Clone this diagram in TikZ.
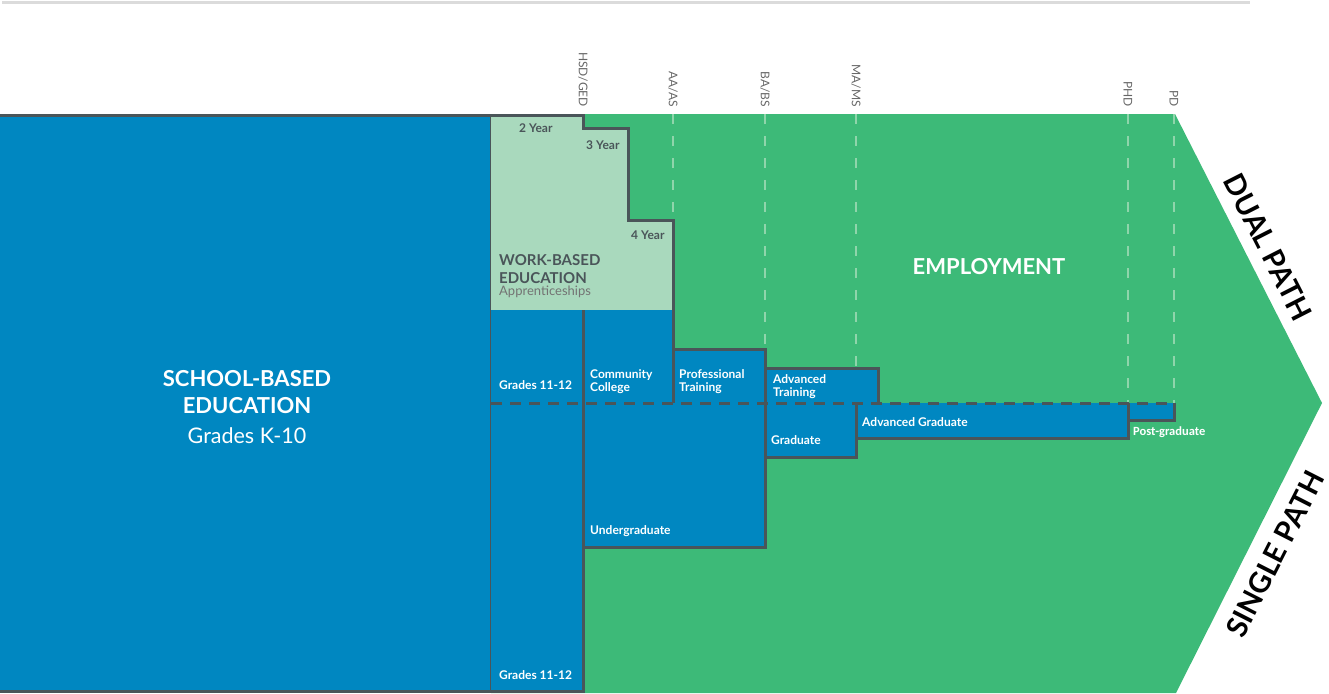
\documentclass[tikz,border=0pt]{standalone}
\usepackage{fontspec}
\setmainfont{Lato}
\newfontfamily\calfont{Carlito}
\usetikzlibrary{positioning}
\definecolor{eduBlue}{HTML}{0087C1}
\definecolor{jobGreen}{HTML}{3DBA78}
\definecolor{workGreen}{HTML}{A9D9BD}
\definecolor{edgeGray}{HTML}{4A5559}
\definecolor{guideGreen}{HTML}{8FD5AB}
\def\toprow{114}
\def\splitrow{403}

\begin{document}
\begin{tikzpicture}[x=1pt,y=-1pt,line join=miter]
    \tikzstyle{edge}=[draw=edgeGray,line width=3pt]
    \tikzstyle{split}=[draw=edgeGray,line width=3pt,dash pattern=on 11pt off 8pt]
    \tikzstyle{guide}=[draw=guideGreen,line width=2pt,dash pattern=on 10pt off 12pt]
    \tikzstyle{degree}=[rotate=-90,anchor=east,inner sep=0pt,text=black!60,font=\fontsize{12}{14}\selectfont]
    \tikzstyle{boxlabel}=[anchor=base west,inner sep=0pt,align=left,text=white,font=\bfseries\fontsize{12}{13}\selectfont]
    \tikzstyle{yearlabel}=[boxlabel,text=edgeGray,font=\bfseries\fontsize{12}{14}\selectfont]
    \tikzstyle{pathlabel}=[inner sep=0pt,font=\bfseries\fontsize{29}{32}\selectfont]

    \useasboundingbox (0,0) rectangle (1329,693);

    % Draw the rule at the top
    \draw[draw=black!14,line width=3pt] (2,2.5) -- (1250,2.5);

    % Draw the employment arrow
    \fill[jobGreen] (491,\toprow) -- (1175,\toprow) -- (1322,\splitrow)
        -- (1176,693) -- (491,693) -- cycle;

    % Draw the degree guides and their labels
    \foreach \x/\yend in {673/220,765/349,856/368,1128/403,1174/403}
        \draw[guide] (\x,\toprow) -- (\x,\yend);
    \foreach \x/\lbl [count=\i] in {583/{HSD/GED},673/{AA/AS},765/{BA/BS},856/{MA/MS},1128/PHD,1174/PD}
        \node[degree] (deg-\i) at (\x,107) {\lbl};

    % Draw the school-based block
    \filldraw[fill=eduBlue,edge] (-3,115) rectangle (491,691);

    % Draw the work-based block
    \fill[workGreen] (491,115) -- (583,115) -- (583,128) -- (628,128) -- (628,220)
        -- (673,220) -- (673,310) -- (491,310) -- cycle;

    % Draw the blue boxes
    \foreach \xa/\ya/\xb/\yb in {491/310/583/691,583/310/673/403,673/349/765/403,
        765/368/878/403,583/403/765/547,765/403/856/457,856/403/1128/438,1128/403/1174/420}
        \fill[eduBlue] (\xa,\ya) rectangle (\xb,\yb);

    % Draw the box edges
    \draw[edge] (491,115) -- (583,115) -- (583,128) -- (628,128) -- (628,220)
        -- (673,220) -- (673,\splitrow);
    \draw[edge] (583,310) -- (583,691) -- (491,691);
    \draw[edge] (673,349) -- (765,349) -- (765,547) -- (583,547);
    \draw[edge] (765,368) -- (878,368) -- (878,\splitrow);
    \draw[edge] (765,457) -- (856,457) -- (856,\splitrow);
    \draw[edge] (856,438) -- (1128,438) -- (1128,\splitrow);
    \draw[edge] (1128,420) -- (1174,420) -- (1174,\splitrow);
    \draw[split] (491,\splitrow) -- (1174,\splitrow);

    % Annotate the blocks
    \node[text=white,align=center,font=\bfseries\fontsize{22}{27}\selectfont] (school) at (247,392) {SCHOOL-BASED\\EDUCATION};
    \node[text=white,font=\fontsize{21.5}{24}\selectfont,below=7pt of school] (school-sub) {Grades K-10};

    \node[yearlabel] (yr-2) at (519,132) {2 Year};
    \node[yearlabel] (yr-3) at (586,149) {3 Year};
    \node[yearlabel] (yr-4) at (631,239) {4 Year};
    \node[boxlabel,text=edgeGray,font=\bfseries\fontsize{15}{18}\selectfont] (work) at (499,283) {WORK-BASED\\EDUCATION};
    \node[boxlabel,text=black!55,font=\fontsize{13}{15}\selectfont] (work-sub) at (499,295) {Apprenticeships};

    \node[boxlabel] (grades-a) at (499,389) {Grades 11-12};
    \node[boxlabel] (grades-b) at (499,679) {Grades 11-12};
    \node[boxlabel] (college) at (590,391) {Community\\College};
    \node[boxlabel] (training) at (679,391) {Professional\\Training};
    \node[boxlabel] (adv-training) at (773,396) {Advanced\\Training};
    \node[boxlabel] (undergrad) at (590,534) {Undergraduate};
    \node[boxlabel] (grad) at (771,444) {Graduate};
    \node[boxlabel] (adv-grad) at (862,426) {Advanced Graduate};
    \node[boxlabel,font=\calfont\bfseries\fontsize{12.5}{14}\selectfont] (post-grad) at (1133,435) {Post-graduate};

    \node[text=white,font=\bfseries\fontsize{22}{25}\selectfont] (employ) at (989,267) {EMPLOYMENT};
    \node[pathlabel,rotate=-63] (dual) at (1268,247) {DUAL PATH};
    \node[pathlabel,rotate=63] (single) at (1275,554) {SINGLE PATH};
\end{tikzpicture}
\end{document}
